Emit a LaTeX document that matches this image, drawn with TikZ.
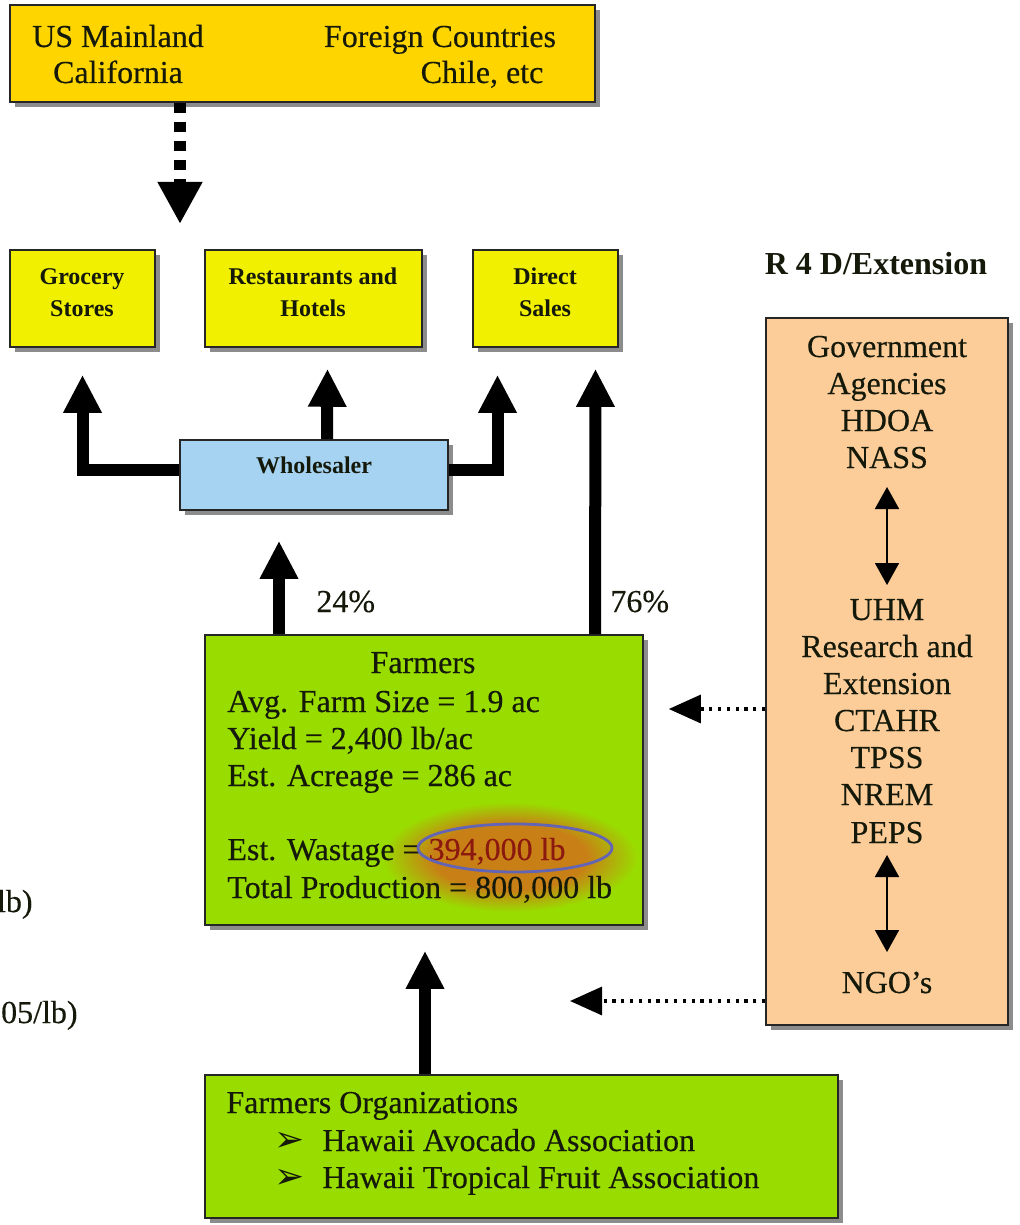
\documentclass[tikz,border=0pt]{standalone}
\usepackage{fontspec}
\setmainfont{Liberation Serif}[UprightFeatures={FakeBold=0.35}]
\newfontfamily\dejavu{DejaVu Sans}
\usetikzlibrary{arrows.meta,shadows,fit,calc}
\definecolor{gold}{RGB}{255,213,0}
\definecolor{yel}{RGB}{240,240,0}
\definecolor{lblue}{RGB}{167,211,242}
\definecolor{fgreen}{RGB}{153,221,0}
\definecolor{peach}{RGB}{252,204,153}
\definecolor{glow}{RGB}{200,128,22}
\definecolor{ellblue}{RGB}{100,100,180}
\definecolor{dred}{RGB}{140,25,15}
\definecolor{txtc}{RGB}{20,25,10}
\pgfdeclareradialshading{glowshade}{\pgfpoint{0bp}{0bp}}{color(0bp)=(glow); color(15bp)=(glow); color(25bp)=(fgreen); color(50bp)=(fgreen)}
\tikzset{
  box/.style={draw=black!85, line width=0.8pt, inner sep=0pt,
    drop shadow={shadow xshift=2.5pt, shadow yshift=-2.5pt, fill=black, opacity=0.45}},
  big/.style={font=\fontsize{16}{18.5}\selectfont, text=txtc, inner sep=0pt},
  small/.style={font=\bfseries\fontsize{12}{15}\selectfont, text=txtc, inner sep=0pt},
  bul/.style={font=\dejavu\fontsize{18}{18}\selectfont, text=txtc, inner sep=0pt},
  thk/.style={line width=6pt, line join=miter, -{Triangle[width=18pt,length=19pt]}},
  dotarrow/.style={line width=1.6pt, dash pattern=on 1.6pt off 2.8pt, -{Triangle[width=14pt,length=16pt]}},
  dbl/.style={line width=0.9pt, {Triangle[width=12pt,length=11pt]}-{Triangle[width=12pt,length=11pt]}}
}
\begin{document}
\begin{tikzpicture}[x=0.5pt,y=-0.5pt]
\useasboundingbox (0,0) rectangle (1019,1225);
% boxes
\node[box, fill=gold, fit={(10,5)(595,102)}] (src) {};
\node[box, fill=yel, fit={(10,250)(155,347)}] (groc) {};
\node[box, fill=yel, fit={(205,250)(422,347)}] (rest) {};
\node[box, fill=yel, fit={(473,250)(618,347)}] (direct) {};
\node[box, fill=lblue, fit={(180,440)(448,510)}] (whole) {};
\node[box, fill=fgreen, fit={(205,635)(643,925)}] (farm) {};
\node[box, fill=peach, fit={(766,318)(1008,1025)}] (rd) {};
\node[box, fill=fgreen, fit={(205,1075)(838,1218)}] (org) {};
% glow
\shade[shading=glowshade] (510,857) ellipse (128 and 55);
% top texts
\node[big, anchor=base] (t1) at (118,47) {US Mainland};
\node[big, anchor=base] (t2) at (118,83) {California};
\node[big, anchor=base] (t3) at (440,47) {Foreign Countries};
\node[big, anchor=base] (t4) at (482,83) {Chile, etc};
% small boxes text
\node[small, anchor=base] (g1) at (82,285) {Grocery};
\node[small, anchor=base] (g2) at (82,316) {Stores};
\node[small, anchor=base] (r1) at (313,285) {Restaurants and};
\node[small, anchor=base] (r2) at (313,316) {Hotels};
\node[small, anchor=base] (d1) at (545,285) {Direct};
\node[small, anchor=base] (d2) at (545,316) {Sales};
\node[small, anchor=base] (w1) at (314,473) {Wholesaler};
\node[font=\bfseries\fontsize{16}{18}\selectfont, text=txtc, inner sep=0pt, anchor=base] (rdt) at (876,274) {R 4 D/Extension};
% percentages
\node[big, anchor=base west] (p24) at (316,612) {24\%};
\node[big, anchor=base west] (p76) at (610,612) {76\%};
% farmers text
\node[big, anchor=base] (f0) at (423,673) {Farmers};
\node[big, anchor=base west] (f1) at (227,712) {Avg. Farm Size = 1.9 ac};
\node[big, anchor=base west] (f2) at (227,749) {Yield = 2,400 lb/ac};
\node[big, anchor=base west] (f3) at (227,786) {Est. Acreage = 286 ac};
\node[big, anchor=base west] (f4) at (227,860) {Est. Wastage = \textcolor{dred}{394,000 lb}};
\node[big, anchor=base west] (f5) at (227,898) {Total Production = 800,000 lb};
\draw[ellblue, line width=1.4pt] (515,848) ellipse (97 and 24);
% R4D text
\foreach \t/\y [count=\i] in {Government/357, Agencies/394, HDOA/431, NASS/468,
  UHM/620, Research and/657, Extension/694, CTAHR/731, TPSS/768, NREM/805, PEPS/843, NGO’s/993}
  \node[big, anchor=base] (rt\i) at (887,\y) {\t};
\coordinate (da1) at (887,487);
\coordinate (da2) at (887,585);
\coordinate (db1) at (887,855);
\coordinate (db2) at (887,952);
\draw[dbl] (da1) -- (da2);
\draw[dbl] (db1) -- (db2);
% org text
\node[big, anchor=base west] (o0) at (226,1113) {Farmers Organizations};
\node[bul, anchor=base west] (b1) at (274,1151) {➢};
\node[bul, anchor=base west] (b2) at (274,1188) {➢};
\node[big, anchor=base west] (o1) at (322,1151) {Hawaii Avocado Association};
\node[big, anchor=base west] (o2) at (322,1188) {Hawaii Tropical Fruit Association};
% cut-off side texts
\node[big, anchor=base east] (s1) at (33,912) {lb)};
\node[big, anchor=base east] (s2) at (78,1023) {05/lb)};
% arrows
\draw[line width=6pt, dash pattern=on 5pt off 4.5pt, -{Triangle[width=21pt,length=21pt]}]
  (src.south -| 180,0) -- (180,224);
\draw[thk] ($(whole.west)+(0,-5)$) -| ($(groc.south)+(0,27)$);
\draw[thk] ($(whole.east)+(0,-5)$) -| ($(direct.south)+(-48,27)$);
\draw[thk] (whole.north -| 327,0) -- ($(rest.south)+(14,21)$);
\draw[thk] (farm.north -| 595,0) -- ($(direct.south)+(50,21)$);
\draw[thk] (farm.north -| 279,0) -- ($(whole.south)+(-35,30)$);
\draw[thk] (org.north -| 425,0) -- ($(farm.south)+(1,25)$);
\draw[dotarrow] (rd.west |- 0,709) -- ($(farm.east |- 0,709)+(25,0)$);
\draw[dotarrow] (rd.west |- 0,1001) -- (570,1001);
\end{tikzpicture}
\end{document}
